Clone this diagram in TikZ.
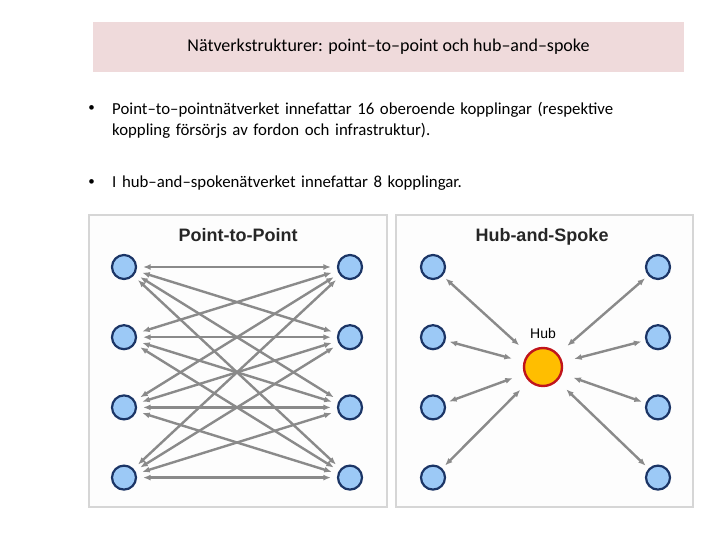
\documentclass[tikz,border=0pt]{standalone}
\usepackage{fontspec}
\setmainfont{Carlito}
\newfontfamily\arialfont{Liberation Sans}
\usepackage{xcolor}
\usetikzlibrary{arrows.meta, positioning}
\definecolor{titlefill}{HTML}{EFDADB}
\definecolor{panelborder}{HTML}{D6D6D6}
\definecolor{panelfill}{HTML}{FDFDFD}
\definecolor{stopfill}{HTML}{9CC9F6}
\definecolor{stopborder}{HTML}{1B3566}
\definecolor{hubfill}{HTML}{FFBE00}
\definecolor{hubborder}{HTML}{C0141B}
\definecolor{linkgray}{HTML}{8A8A8A}
\tikzset{
stop/.style={
circle,
draw=stopborder,
fill=stopfill,
line width=2.2pt,
minimum size=24pt,
inner sep=0pt
},
hubnode/.style={
circle,
draw=hubborder,
fill=hubfill,
line width=2.4pt,
minimum size=38pt,
inner sep=0pt
},
panel/.style={
draw=panelborder,
fill=panelfill,
line width=1.8pt
},
paneltitle/.style={
font=\arialfont\bfseries\fontsize{18}{20}\selectfont,
text=black!85,
anchor=base
},
bodytext/.style={
font=\fontsize{16.8}{21}\selectfont,
align=left,
inner sep=0pt
},
link/.style={
{Latex[length=7.5pt,width=6pt]}-{Latex[length=7.5pt,width=6pt]},
line width=2.4pt,
draw=linkgray,
shorten <=6pt,
shorten >=6pt
},
spoke/.style={
{Latex[length=7.5pt,width=6pt]}-{Latex[length=7.5pt,width=6pt]},
line width=2.4pt,
draw=linkgray,
shorten <=4pt,
shorten >=12pt
}
}

\begin{document}
\begin{tikzpicture}[x=1pt, y=-1pt, node distance=44pt]
\useasboundingbox (0,0) rectangle (720,540);

% heading
\fill[titlefill] (93,22) rectangle (684,72);
\node[font=\fontsize{18}{21}\selectfont] (title) at (388.5,47) {Nätverkstrukturer: point–to–point och hub–and–spoke};

% bullets
\node[bodytext, anchor=north west, text width=580pt] (text1) at (112,102)
  {Point–to–pointnätverket innefattar 16 oberoende kopplingar (respektive\\koppling försörjs av fordon och infrastruktur).};
\node[bodytext, anchor=north west, text width=580pt] (text2) at (112,176)
  {I hub–and–spokenätverket innefattar 8 kopplingar.};
\node[bodytext, font=\fontsize{13}{15}\selectfont, anchor=east] (dot1) at (95,109) {•};
\node[bodytext, font=\fontsize{13}{15}\selectfont, anchor=east] (dot2) at (95,183) {•};

% point-to-point
\draw[panel] (89,215) rectangle (387,507);
\node[paneltitle] (ptitle) at (238,241) {Point-to-Point};

\node[stop] (l1) at (124,267) {};
\node[stop, below=of l1] (l2) {};
\node[stop, below=of l2] (l3) {};
\node[stop, below=of l3] (l4) {};
\node[stop] (r1) at (350,267) {};
\node[stop, below=of r1] (r2) {};
\node[stop, below=of r2] (r3) {};
\node[stop, below=of r3] (r4) {};

\draw[link] (l1) -- (r1);
\draw[link] (l1) -- (r2);
\draw[link] (l1) -- (r3);
\draw[link] (l1) -- (r4);
\draw[link] (l2) -- (r1);
\draw[link] (l2) -- (r2);
\draw[link] (l2) -- (r3);
\draw[link] (l2) -- (r4);
\draw[link] (l3) -- (r1);
\draw[link] (l3) -- (r2);
\draw[link] (l3) -- (r3);
\draw[link] (l3) -- (r4);
\draw[link] (l4) -- (r1);
\draw[link] (l4) -- (r2);
\draw[link] (l4) -- (r3);
\draw[link] (l4) -- (r4);

% hub-and-spoke
\draw[panel] (396,215) rectangle (693,507);
\node[paneltitle] (htitle) at (542,241) {Hub-and-Spoke};

\node[hubnode] (hub) at (543,367) {};
\node[font=\arialfont\fontsize{14}{16}\selectfont, above=5pt of hub] (hublabel) {Hub};

\node[stop] (a1) at (433,267) {};
\node[stop, below=of a1] (a2) {};
\node[stop, below=of a2] (a3) {};
\node[stop, below=of a3] (a4) {};
\node[stop] (b1) at (658,267) {};
\node[stop, below=of b1] (b2) {};
\node[stop, below=of b2] (b3) {};
\node[stop, below=of b3] (b4) {};

\draw[spoke] (a1) -- (hub);
\draw[spoke] (a2) -- (hub);
\draw[spoke] (a3) -- (hub);
\draw[spoke] (a4) -- (hub);
\draw[spoke] (b1) -- (hub);
\draw[spoke] (b2) -- (hub);
\draw[spoke] (b3) -- (hub);
\draw[spoke] (b4) -- (hub);

\end{tikzpicture}
\end{document}
